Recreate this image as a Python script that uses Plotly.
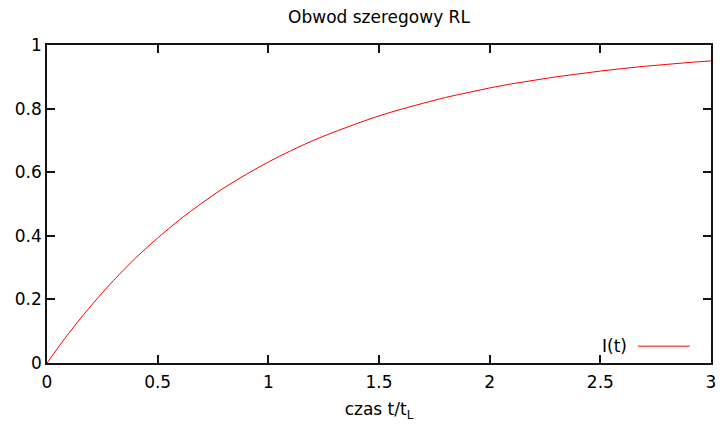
import plotly.graph_objects as go

# values
t_values = [0.0, 0.1, 0.2, 0.3, 0.4, 0.5, 0.6, 0.7, 0.8, 0.9, 1.0,
            1.1, 1.2, 1.3, 1.4, 1.5, 1.6, 1.7, 1.8, 1.9, 2.0,
            2.1, 2.2, 2.3, 2.4, 2.5, 2.6, 2.7, 2.8, 2.9, 3.0]
i_values = [0.0, 0.095, 0.181, 0.259, 0.330, 0.393, 0.451, 0.503, 0.551, 0.593, 0.632,
            0.667, 0.699, 0.727, 0.753, 0.777, 0.798, 0.817, 0.835, 0.850, 0.865,
            0.878, 0.889, 0.900, 0.909, 0.918, 0.926, 0.933, 0.939, 0.945, 0.950]
x_ticks = [0, 0.5, 1, 1.5, 2, 2.5, 3]
x_tick_labels = ["0", "0.5", "1", "1.5", "2", "2.5", "3"]
y_ticks = [0, 0.2, 0.4, 0.6, 0.8, 1]
y_tick_labels = ["0", "0.2", "0.4", "0.6", "0.8", "1"]
series_name = "I(t)"

FONT = "DejaVu Sans"
FS = 17
W, H = 722, 424
ML, MR, MT, MB = 47, 11, 45, 61
FRAME = "rgb(20,20,20)"

fig = go.Figure()
fig.add_trace(go.Scatter(x=t_values, y=i_values, mode="lines", name=series_name,
                         line=dict(color="#ff0000", width=1, shape="spline"),
                         showlegend=False, cliponaxis=False))

axis_common = dict(showgrid=False, zeroline=False, showline=True, mirror="ticks",
                   linecolor=FRAME, linewidth=1.5, ticks="inside", ticklen=8,
                   tickcolor=FRAME, tickwidth=1.5, automargin=False,
                   tickfont=dict(family=FONT, size=FS, color="black"))

fig.update_xaxes(range=[0, 3], tickvals=x_ticks, ticktext=x_tick_labels,
                 ticklabelstandoff=3,
                 title=dict(text="czas t/t<sub>L</sub>", font=dict(family=FONT, size=FS, color="black"),
                            standoff=12),
                 **axis_common)
fig.update_yaxes(range=[0, 1], tickvals=y_ticks, ticktext=y_tick_labels,
                 **axis_common)

# legend key drawn gnuplot-style (text, then line sample)
fig.add_annotation(x=0.876, y=0.053, xref="paper", yref="paper", text=series_name,
                   showarrow=False, xanchor="right", yanchor="middle",
                   font=dict(family=FONT, size=FS, color="black"))
fig.add_shape(type="line", xref="paper", yref="paper", x0=0.890, x1=0.968, y0=0.053, y1=0.053,
              line=dict(color="#ff0000", width=1))

fig.update_layout(
    width=W, height=H,
    margin=dict(l=ML, r=MR, t=MT, b=MB, autoexpand=False),
    paper_bgcolor="white", plot_bgcolor="white",
    title=dict(text="Obwod szeregowy RL", xref="paper", x=0.5, xanchor="center",
               yref="container", y=0.96, yanchor="middle",
               font=dict(family=FONT, size=FS, color="black")),
    showlegend=False,
)

fig.write_html("out.html", config={"displayModeBar": False},
               post_script="document.body.style.margin='0';document.body.style.overflow='hidden';")
